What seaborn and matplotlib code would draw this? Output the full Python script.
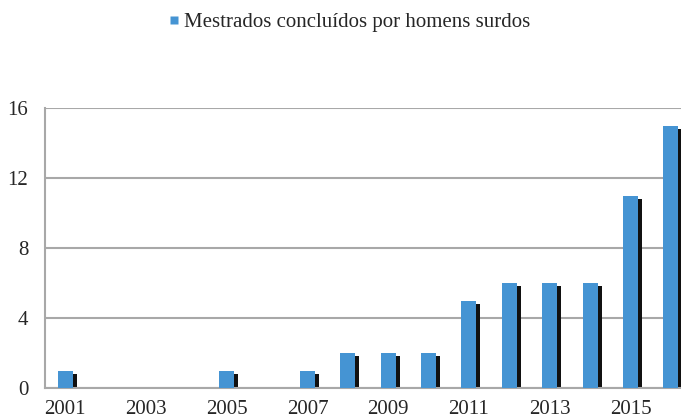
import numpy as np
import pandas as pd
import seaborn as sns
import matplotlib
matplotlib.use("Agg")
import matplotlib.pyplot as plt
from matplotlib.transforms import ScaledTranslation
from matplotlib.lines import Line2D

years = [str(y) for y in range(2001, 2017)]
values = [1, 0, 0, 0, 1, 0, 1, 2, 2, 2, 5, 6, 6, 6, 11, 15]
series_label = "Mestrados concluídos por homens surdos"
yticks = [0, 4, 8, 12, 16]

df = pd.DataFrame({"ano": years, "valor": values})

sns.set_theme(style="white")
plt.rcParams["font.family"] = ["Liberation Serif", "DejaVu Serif"]

fig = plt.figure(figsize=(6.81, 4.2), dpi=100)
fig.patch.set_facecolor("white")
ax = fig.add_axes([45 / 681, 32 / 420, 646 / 681, 280 / 420])

blue = "#4594d3"
# shadow bars
sns.barplot(data=df, x="ano", y="valor", order=years, color="#111111",
            width=0.37, saturation=1, ax=ax)
shift = ScaledTranslation(4 / 100, -3 / 100, fig.dpi_scale_trans)
shadow_patches = list(ax.patches)
for p in shadow_patches:
    p.set_transform(ax.transData + shift)
    p.set_edgecolor("none")
    p.set_zorder(2)
sns.barplot(data=df, x="ano", y="valor", order=years, color=blue,
            width=0.37, saturation=1, ax=ax)
for p in ax.patches:
    if p not in shadow_patches:
        p.set_edgecolor("none")
        p.set_zorder(3)

ax.set_ylim(0, 16)
ax.set_xlim(-0.5, len(years) - 0.5)
ax.set_yticks(yticks)
ax.set_yticklabels([str(t) for t in yticks], fontsize=15)
ax.yaxis.grid(True, color="#a8a8a8", linewidth=1.5, zorder=0)
ax.set_axisbelow(True)

ax.set_xticks(range(len(years)))
ax.set_xticklabels([y if i % 2 == 0 else "" for i, y in enumerate(years)], fontsize=15)
ax.set_xticks(np.arange(-0.5, len(years), 1), minor=True)
ax.tick_params(axis="x", which="major", length=0, pad=9)
ax.tick_params(axis="x", which="minor", length=4, width=1, color="#a8a8a8", direction="out")
ax.tick_params(axis="y", which="major", length=4, width=1, color="#a8a8a8", direction="out", pad=8)
ax.set_xlabel("")
ax.set_ylabel("")

for s in ["top", "right"]:
    ax.spines[s].set_visible(False)
ax.spines["left"].set_color("#a8a8a8")
ax.spines["left"].set_linewidth(1.5)
ax.spines["bottom"].set_color("#a8a8a8")
ax.spines["bottom"].set_linewidth(1.5)

handle = Line2D([], [], marker="s", linestyle="none", markersize=6,
                markerfacecolor=blue, markeredgecolor="none")
fig.legend([handle], [series_label], loc="center", bbox_to_anchor=(348 / 681, 1 - 22 / 420),
           frameon=False, fontsize=15, handletextpad=0.1, handlelength=0.8)

fig.savefig("out.png", dpi=100, facecolor="white")
